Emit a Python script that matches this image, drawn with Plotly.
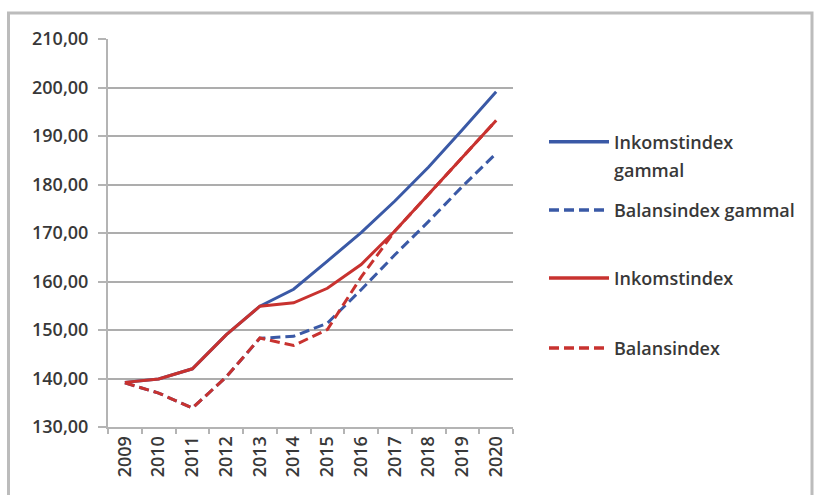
import plotly.graph_objects as go

years = ["2009", "2010", "2011", "2012", "2013", "2014", "2015", "2016", "2017", "2018", "2019", "2020"]
inkomstindex_gammal = [139.2, 139.9, 142.0, 149.0, 154.9, 158.4, 164.2, 170.1, 176.6, 183.6, 191.3, 199.1]
balansindex_gammal = [139.1, 137.0, 133.9, 140.3, 148.3, 148.7, 151.4, 158.3, 165.5, 172.4, 179.6, 186.4]
inkomstindex = [139.2, 139.9, 142.0, 149.0, 154.9, 155.6, 158.6, 163.5, 170.4, 178.0, 185.6, 193.2]
balansindex = [139.1, 137.0, 133.9, 140.3, 148.35, 146.8, 150.1, 160.9, 170.4, 178.0, 185.6, 193.2]
y_ticks = [130, 140, 150, 160, 170, 180, 190, 200, 210]

BLUE = "#3A59A6"
RED = "#C8322F"
DASH = "10px,5px"
FONT = "Open Sans"
TXT = "#383838"

series = [
    ("Inkomstindex gammal", inkomstindex_gammal, BLUE, "solid"),
    ("Balansindex gammal", balansindex_gammal, BLUE, DASH),
    ("Inkomstindex", inkomstindex, RED, "solid"),
    ("Balansindex", balansindex, RED, DASH),
]

fig = go.Figure()
for name, vals, col, dash in series:
    fig.add_trace(go.Scatter(x=years, y=vals, mode="lines", name=name,
                             line=dict(color=col, width=3, dash=dash),
                             showlegend=False))

W, H = 818, 495
L, R, T, B = 108, 305, 39, 68
PW, PH = W - L - R, H - T - B

def px(x):
    return (x - L) / PW

def py(y):
    return (H - B - y) / PH

shapes = []
annotations = []
# outer chart border
shapes.append(dict(type="rect", xref="paper", yref="paper",
                   x0=px(8.5), x1=px(812), y0=py(520), y1=py(13),
                   line=dict(color="#bcbcbc", width=3), fillcolor="rgba(0,0,0,0)", layer="below"))

# manual legend
leg = [
    (141.7, BLUE, "solid", ["Inkomstindex", "gammal"]),
    (210, BLUE, DASH, ["Balansindex gammal"]),
    (278, RED, "solid", ["Inkomstindex"]),
    (348, RED, DASH, ["Balansindex"]),
]
for yy, col, dash, lines in leg:
    shapes.append(dict(type="line", xref="paper", yref="paper",
                       x0=px(549), x1=px(609), y0=py(yy), y1=py(yy),
                       line=dict(color=col, width=3.5, dash=dash)))
    for k, t in enumerate(lines):
        annotations.append(dict(xref="paper", yref="paper", x=px(612), y=py(yy + k * 28),
                                text=t, showarrow=False, xanchor="left", yanchor="middle",
                                font=dict(family=FONT, size=18, color=TXT, weight=600)))

fig.update_layout(
    width=W, height=H,
    margin=dict(l=L, r=R, t=T, b=B),
    paper_bgcolor="white", plot_bgcolor="white",
    separators=", ",
    shapes=shapes, annotations=annotations,
    font=dict(family=FONT, size=18, color=TXT),
    xaxis=dict(type="category", tickangle=-90, showgrid=False,
               showline=True, linecolor="#b4b4b4", linewidth=2,
               ticks="outside", tickson="boundaries", ticklen=5, tickcolor="#b4b4b4", tickwidth=2,
               tickfont=dict(family=FONT, size=18, color=TXT, weight=600), range=[-0.5, 11.5]),
    yaxis=dict(range=[130, 210], tickvals=y_ticks, tickformat=".2f",
               showgrid=True, gridcolor="#adadad", gridwidth=2,
               showline=True, linecolor="#b4b4b4", linewidth=2,
               ticks="outside", ticklen=8, tickcolor="#b4b4b4", tickwidth=2,
               ticklabelstandoff=6, zeroline=False,
               tickfont=dict(family=FONT, size=18, color=TXT, weight=600)),
)

fig.write_html("out.html")
